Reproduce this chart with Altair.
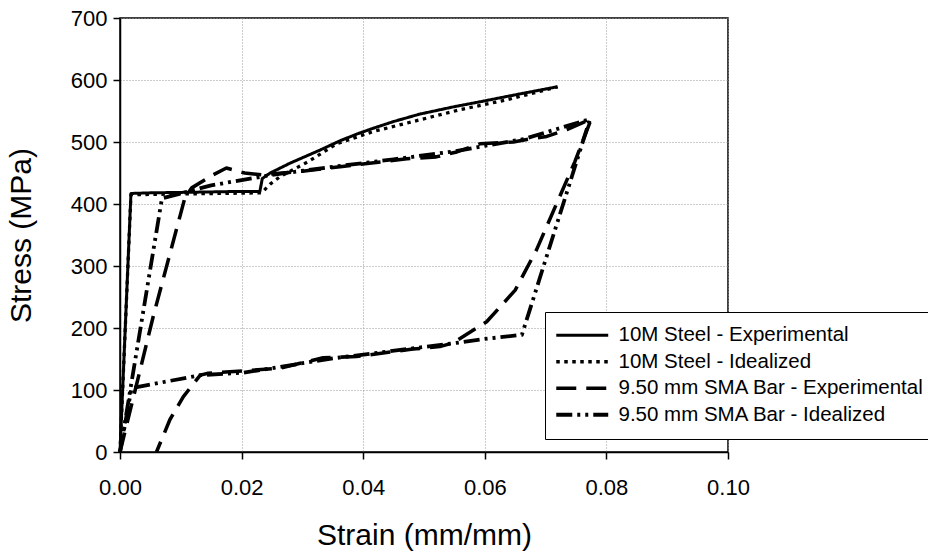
import altair as alt
import pandas as pd

series_names = [
    "10M Steel - Experimental",
    "10M Steel - Idealized",
    "9.50 mm SMA Bar - Experimental",
    "9.50 mm SMA Bar - Idealized",
]

steel_exp_x = [0, 0.0018, 0.005, 0.012, 0.018, 0.023, 0.0234, 0.0247, 0.0280, 0.0329, 0.0362, 0.0390,
               0.0416, 0.0450, 0.0493, 0.0550, 0.0598, 0.0660, 0.0719]
steel_exp_y = [0, 417, 418, 419, 420, 420, 441, 450, 466, 487, 502, 513,
               522, 533, 545, 557, 566, 578, 589]

steel_ideal_x = [0, 0.0018, 0.0233, 0.0247, 0.0263, 0.0309, 0.0356, 0.0417, 0.0482, 0.0559, 0.0636, 0.0720]
steel_ideal_y = [0, 415, 418, 432, 444, 468, 497, 517, 533, 552, 568, 589]

sma_exp_x = [0, 0.0055, 0.0107, 0.0118, 0.0153, 0.0175, 0.0205, 0.0235, 0.030, 0.0362, 0.043, 0.0472,
             0.052, 0.0554, 0.0592, 0.0647, 0.0669, 0.0702, 0.0735, 0.0775,
             0.0748, 0.0685, 0.065, 0.0603, 0.0548, 0.0526, 0.0482, 0.0389, 0.0334, 0.0263,
             0.0145, 0.0132, 0.0104, 0.0082, 0.006]
sma_exp_y = [0, 220, 411, 426, 447, 458, 450, 447, 453, 460, 468, 473,
             476, 484, 497, 500, 504, 509, 520, 537,
             468, 326, 261, 210, 176, 170, 166, 154, 152, 135,
             127, 124, 89, 52, 0]

sma_ideal_x = [0, 0.0069, 0.015, 0.025, 0.035, 0.045, 0.055, 0.0665, 0.0773,
               0.0661, 0.0597, 0.0553, 0.035, 0.0274, 0.0203, 0.0132, 0.0019, 0]
sma_ideal_y = [0, 409, 430, 447, 460, 472, 485, 505, 537,
               189, 182, 176, 151, 139, 128, 124, 103, 0]

x_ticks = [0.0, 0.02, 0.04, 0.06, 0.08, 0.10]
y_ticks = [0, 100, 200, 300, 400, 500, 600, 700]

rows = []
for name, xs, ys in zip(series_names,
                        [steel_exp_x, steel_ideal_x, sma_exp_x, sma_ideal_x],
                        [steel_exp_y, steel_ideal_y, sma_exp_y, sma_ideal_y]):
    for i, (xv, yv) in enumerate(zip(xs, ys)):
        rows.append({"series": name, "strain": xv, "stress": yv, "i": i})
df = pd.DataFrame(rows)

FONT = "Liberation Sans"

chart = alt.Chart(df).mark_line(color="black", strokeJoin="round").encode(
    x=alt.X("strain:Q",
            scale=alt.Scale(domain=[0, 0.1], nice=False, zero=True),
            axis=alt.Axis(values=x_ticks, format=".2f", title="Strain (mm/mm)",
                          labelFlush=False, labelPadding=18, titlePadding=22)),
    y=alt.Y("stress:Q",
            scale=alt.Scale(domain=[0, 700], nice=False),
            axis=alt.Axis(values=y_ticks, format="d", title="Stress (MPa)",
                          labelPadding=6, titlePadding=34)),
    strokeDash=alt.StrokeDash(
        "series:N",
        scale=alt.Scale(domain=series_names,
                        range=[[1, 0], [3.5, 4.5], [20, 10], [16, 5, 3, 5, 3, 5]]),
        legend=alt.Legend(title=None, orient="none", legendX=425, legendY=294,
                          fillColor="white", strokeColor="black", padding=13,
                          symbolType="M-5,0H5", symbolSize=108, symbolStrokeWidth=3,
                          symbolStrokeColor="black", symbolOffset=14,
                          labelFontSize=20.5, labelFont=FONT, labelColor="black",
                          labelLimit=500, rowPadding=5.5, labelOffset=26)),
    strokeWidth=alt.StrokeWidth(
        "series:N",
        scale=alt.Scale(domain=series_names, range=[3, 3.8, 3, 3]),
        legend=None),
    detail="series:N",
    order="i:Q",
).properties(
    width=608, height=434,
    autosize=alt.AutoSizeParams(type="none"),
    padding={"left": 120, "top": 18, "right": 200, "bottom": 104},
).configure_view(
    stroke="black", strokeWidth=1.5
).configure_axis(
    labelFont=FONT, titleFont=FONT, labelFontSize=22, titleFontSize=30,
    titleFontWeight="normal", labelColor="black", titleColor="black",
    domainColor="black", domainWidth=1.5, tickColor="black", tickSize=7, tickWidth=1.5,
    gridColor="#999999", gridDash=[1, 2], gridWidth=1, gridOpacity=1,
)

chart.save("out.html", embed_options={"renderer": "svg", "actions": False})
